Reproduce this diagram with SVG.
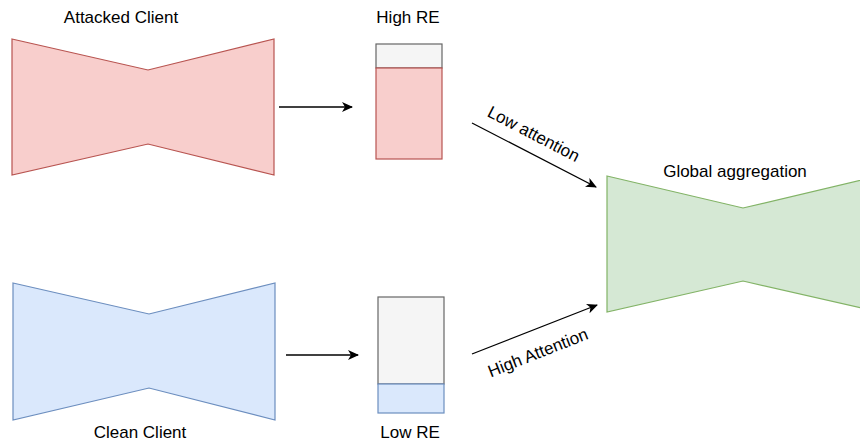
<svg xmlns="http://www.w3.org/2000/svg" width="860" height="445" viewBox="0 0 860 445">
<defs>
<style>
text{font-family:"Liberation Sans",Arial,Helvetica,sans-serif;font-size:17px;fill:#000;}
.lbl{text-anchor:middle;}
.edge{stroke:#000;stroke-width:1.3;fill:none;}
.red{fill:#f8cecc;stroke:#b85450;stroke-width:1.2;}
.blue{fill:#dae8fc;stroke:#6c8ebf;stroke-width:1.2;}
.green{fill:#d5e8d4;stroke:#82b366;stroke-width:1.2;}
.grey{fill:#f5f5f5;stroke:#666666;stroke-width:1.2;}
</style>
<marker id="arr" markerWidth="12" markerHeight="10" viewBox="0 0 12 10" refX="10" refY="5" orient="auto" markerUnits="userSpaceOnUse">
<path d="M0,0 L11,5 L0,10 L3,5 Z" fill="#000"/>
</marker>
</defs>
<rect width="860" height="445" fill="#fff"/>
<g id="attacked-client">
<polygon class="red" points="12,39 148,70 274,39 274,175 148,144 12,175"/>
<text class="lbl" x="121" y="23">Attacked Client</text>
</g>
<g id="high-re">
<rect class="grey" x="376" y="44" width="66" height="24"/>
<rect class="red" x="376" y="68" width="66" height="91"/>
<text class="lbl" x="408" y="23">High RE</text>
</g>
<g id="clean-client">
<polygon class="blue" points="13,283 149,314 275,283 275,420 149,388 13,420"/>
<text class="lbl" x="140" y="438">Clean Client</text>
</g>
<g id="low-re">
<rect class="grey" x="378" y="297" width="66" height="87"/>
<rect class="blue" x="378" y="384" width="66" height="29"/>
<text class="lbl" x="410" y="438">Low RE</text>
</g>
<g id="global-aggregation">
<polygon class="green" points="607,176 743,208 879,176 879,312 743,281 607,312"/>
<text class="lbl" x="735" y="177">Global aggregation</text>
</g>
<g id="connectors">
<line class="edge" x1="279" y1="107" x2="352" y2="107" marker-end="url(#arr)"/>
<line class="edge" x1="286" y1="355" x2="358" y2="355" marker-end="url(#arr)"/>
<line class="edge" x1="472" y1="123" x2="596" y2="187" marker-end="url(#arr)"/>
<line class="edge" x1="472" y1="354" x2="597" y2="305" marker-end="url(#arr)"/>
<text class="lbl" transform="translate(531,139) rotate(27.5)">Low attention</text>
<text class="lbl" transform="translate(540,358) rotate(-21.5)">High Attention</text>
</g>
</svg>
